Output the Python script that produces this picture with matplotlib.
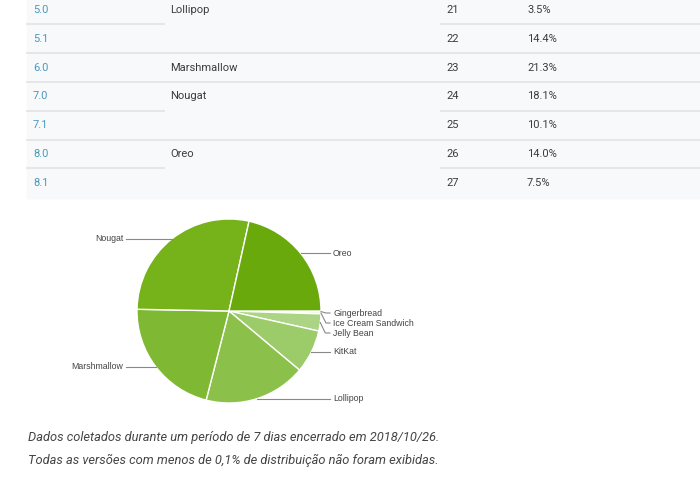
import matplotlib.pyplot as plt
import numpy as np
from matplotlib.patches import Rectangle

##---------------------------table data-------------------------------##
versions = ['5.0', '5.1', '6.0', '7.0', '7.1', '8.0', '8.1']
codenames = ['Lollipop', '', 'Marshmallow', 'Nougat', '', 'Oreo', '']
api_levels = ['21', '22', '23', '24', '25', '26', '27']
distribution = ['3.5%', '14.4%', '21.3%', '18.1%', '10.1%', '14.0%', '7.5%']

##---------------------------pie data---------------------------------##
pie_labels = ['Gingerbread', 'Ice Cream Sandwich', 'Jelly Bean', 'KitKat',
              'Lollipop', 'Marshmallow', 'Nougat', 'Oreo']
pie_values = [0.2, 0.3, 3.0, 7.6, 17.9, 21.3, 28.2, 21.5]
pie_colors = ['#d4e9bd', '#c0e0a1', '#abd485', '#9ccb6a',
              '#8bc14b', '#7fb832', '#76b219', '#69a90c']

caption = ['Dados coletados durante um período de 7 dias encerrado em 2018/10/26.',
           'Todas as versões com menos de 0,1% de distribuição não foram exibidas.']

##---------------------------layout-----------------------------------##
W, H = 700, 483
row_h = 28.8
first_row = 10
col_x = [33, 170, 446, 527]
cx, cy, r = 229, 311, 92
# fixed y for the crowded thin slices, None = follow the slice
label_y = [313, 323, 333, None, None, None, None, None]

fig = plt.figure(figsize=(W / 100, H / 100), dpi=100)
ax = fig.add_axes([0, 0, 1, 1])

##---------------------------table------------------------------------##
ax.add_patch(Rectangle((27, 0), W - 27, 198, color='#f8f9fa', zorder=0))
for i in range(len(versions)):
    y = first_row + i * row_h
    ax.text(col_x[0], y, versions[i], color='#4a98bd', fontsize=8,
            family='Roboto', va='center')
    ax.text(col_x[1], y, codenames[i], color='#3c3c3c', fontsize=8,
            family='Roboto', va='center')
    ax.text(col_x[2], y, api_levels[i], color='#3c3c3c', fontsize=8,
            family='Roboto', va='center')
    ax.text(col_x[3], y, distribution[i], color='#3c3c3c', fontsize=8,
            family='Roboto', va='center')
    if i < len(versions) - 1:
        ly = y + row_h / 2
        if codenames[i + 1] == '':
            ax.plot([27, 164], [ly, ly], color='#e3e4e6', lw=1.3)
            ax.plot([441, W], [ly, ly], color='#e3e4e6', lw=1.3)
        else:
            ax.plot([27, W], [ly, ly], color='#e3e4e6', lw=1.3)

##---------------------------pie--------------------------------------##
wedges, _ = ax.pie(pie_values, colors=pie_colors, startangle=0, counterclock=True,
                   center=(cx, cy), radius=r,
                   wedgeprops=dict(edgecolor='white', linewidth=1))

for k, w in enumerate(wedges):
    m = np.deg2rad((w.theta1 + w.theta2) / 2)
    axp = cx + r * np.cos(m)
    ayp = cy + r * np.sin(m)
    ty = ayp if label_y[k] is None else label_y[k]
    if np.cos(m) > 0:
        if label_y[k] is None:
            ax.plot([axp, 330], [ty, ty], color='#888888', lw=0.8)
        else:
            ax.plot([axp, axp + 5, 330], [ayp, ty, ty], color='#888888', lw=0.8)
        ax.text(333, ty, pie_labels[k], fontsize=6.3, family='Liberation Sans',
                color='#444444', va='center', ha='left')
    else:
        ax.plot([axp, 126], [ty, ty], color='#888888', lw=0.8)
        ax.text(123, ty, pie_labels[k], fontsize=6.3, family='Liberation Sans',
                color='#444444', va='center', ha='right')

##---------------------------caption----------------------------------##
ax.text(28, 438, caption[0], fontsize=9.25, family='Roboto', style='italic',
        color='#444444', va='center')
ax.text(28, 460, caption[1], fontsize=9.25, family='Roboto', style='italic',
        color='#444444', va='center')

ax.set_xlim(0, W)
ax.set_ylim(H, 0)
ax.axis('off')
fig.savefig('out.png', dpi=100)
